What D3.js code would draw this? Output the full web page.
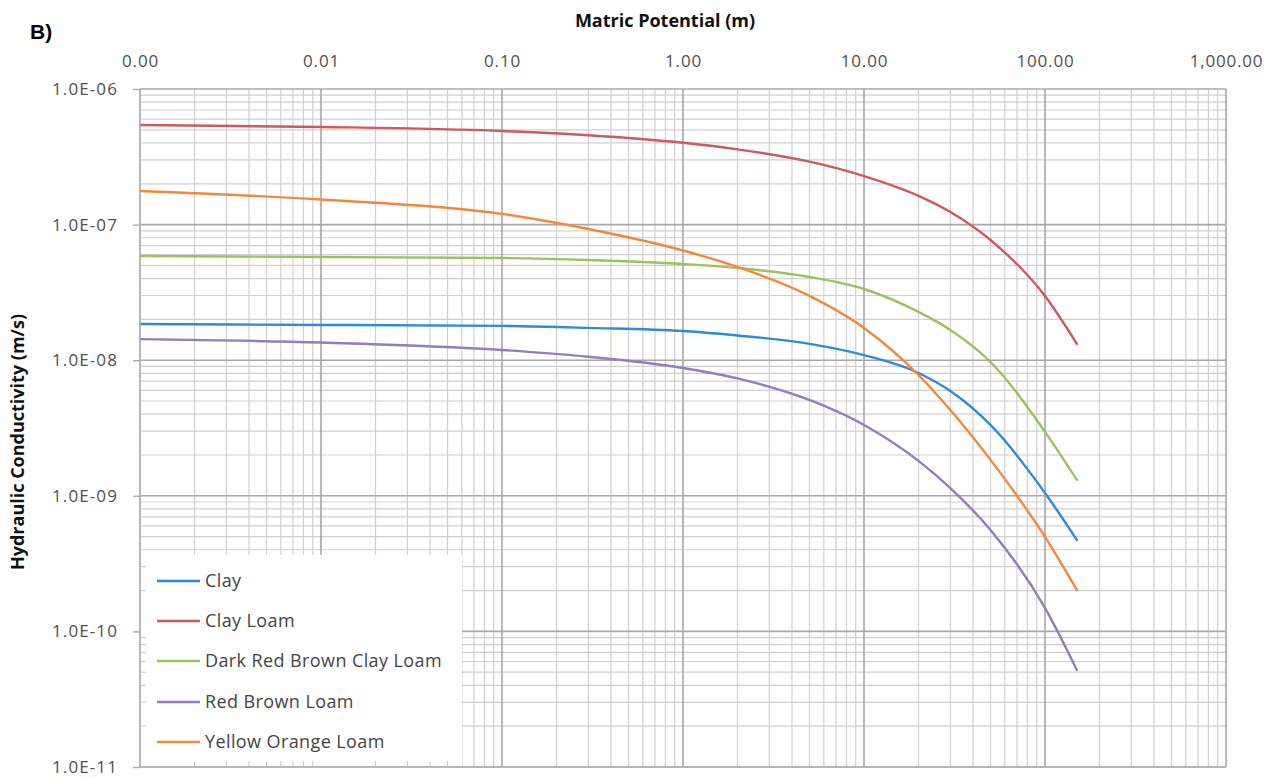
<!DOCTYPE html>
<html>
<head>
<meta charset="utf-8">
<script src="https://cdn.jsdelivr.net/npm/d3@7"></script>
<style>
  html, body { margin: 0; padding: 0; background: #fff; }
  svg { display: block; }
</style>
</head>
<body>
<svg id="chart" width="1278" height="778"></svg>
<script>
// ---- data ----
const matricPotential = [0.001, 0.01, 0.1, 0.3, 1, 2, 5, 10, 20, 30, 50, 100, 150];

const seriesNames = ["Clay", "Clay Loam", "Dark Red Brown Clay Loam", "Red Brown Loam", "Yellow Orange Loam"];
const seriesColors = ["#2e8bdb", "#cc5a5e", "#9cc25e", "#927dbd", "#f5873a"];

const clay                 = [1.85e-8, 1.82e-8, 1.79e-8, 1.73e-8, 1.64e-8, 1.52e-8, 1.32e-8, 1.09e-8, 8.05e-9, 5.93e-9, 3.33e-9, 1.05e-9, 4.72e-10];
const clayLoam             = [5.42e-7, 5.25e-7, 4.90e-7, 4.56e-7, 4.01e-7, 3.59e-7, 2.91e-7, 2.28e-7, 1.63e-7, 1.24e-7, 7.70e-8, 2.97e-8, 1.32e-8];
const darkRedBrownClayLoam = [5.87e-8, 5.77e-8, 5.67e-8, 5.48e-8, 5.12e-8, 4.79e-8, 4.11e-8, 3.35e-8, 2.27e-8, 1.67e-8, 9.70e-9, 2.96e-9, 1.31e-9];
const redBrownLoam         = [1.43e-8, 1.35e-8, 1.19e-8, 1.06e-8, 8.76e-9, 7.34e-9, 5.09e-9, 3.33e-9, 1.81e-9, 1.14e-9, 5.60e-10, 1.49e-10, 5.19e-11];
const yellowOrangeLoam     = [1.77e-7, 1.53e-7, 1.20e-7, 9.28e-8, 6.44e-8, 4.87e-8, 2.98e-8, 1.73e-8, 7.78e-9, 4.29e-9, 1.84e-9, 4.97e-10, 2.02e-10];

const seriesValues = [clay, clayLoam, darkRedBrownClayLoam, redBrownLoam, yellowOrangeLoam];

const xTickValues = [0.001, 0.01, 0.1, 1, 10, 100, 1000];
const yTickValues = [1e-6, 1e-7, 1e-8, 1e-9, 1e-10, 1e-11];

const xTitle = "Matric Potential (m)";
const yTitle = "Hydraulic Conductivity (m/s)";
const panelLabel = "B)";

// ---- layout ----
const plot = { left: 140, right: 1226, top: 89, bottom: 767 };
const svg = d3.select("#chart");

const x = d3.scaleLog().domain([0.001, 1000]).range([plot.left, plot.right]);
const y = d3.scaleLog().domain([1e-11, 1e-6]).range([plot.bottom, plot.top]);

function logMinor(lo, hi) {
  const out = [];
  for (let e = Math.round(Math.log10(lo)); e < Math.round(Math.log10(hi)); e++) {
    for (let k = 2; k <= 9; k++) out.push(k * Math.pow(10, e));
  }
  return out;
}
const xMinor = logMinor(0.001, 1000);
const yMinor = logMinor(1e-11, 1e-6);

const grid = svg.append("g");
grid.selectAll("line.xminor").data(xMinor).join("line")
  .attr("x1", d => x(d)).attr("x2", d => x(d))
  .attr("y1", plot.top).attr("y2", plot.bottom)
  .attr("stroke", "#d0d0d0").attr("stroke-width", 1.2);
grid.selectAll("line.yminor").data(yMinor).join("line")
  .attr("y1", d => y(d)).attr("y2", d => y(d))
  .attr("x1", plot.left).attr("x2", plot.right)
  .attr("stroke", "#d0d0d0").attr("stroke-width", 1.2);
grid.selectAll("line.xmajor").data(xTickValues).join("line")
  .attr("x1", d => x(d)).attr("x2", d => x(d))
  .attr("y1", plot.top).attr("y2", plot.bottom)
  .attr("stroke", "#a8a8a8").attr("stroke-width", 1.6);
grid.selectAll("line.ymajor").data(yTickValues).join("line")
  .attr("y1", d => y(d)).attr("y2", d => y(d))
  .attr("x1", plot.left).attr("x2", plot.right)
  .attr("stroke", "#a8a8a8").attr("stroke-width", 1.6);

// ---- series ----
const line = d3.line()
  .x(d => x(d[0]))
  .y(d => y(d[1]))
  .curve(d3.curveMonotoneX);

const lines = svg.append("g");
seriesNames.forEach((name, i) => {
  const pts = matricPotential.map((p, j) => [p, seriesValues[i][j]]);
  lines.append("path")
    .datum(pts)
    .attr("d", line)
    .attr("fill", "none")
    .attr("stroke", seriesColors[i])
    .attr("stroke-width", 2.4)
    .attr("stroke-linejoin", "round")
    .attr("stroke-linecap", "round");
});

// ---- legend ----
const legend = svg.append("g");
legend.append("rect")
  .attr("x", plot.left + 1).attr("y", 555)
  .attr("width", 321).attr("height", plot.bottom - 555 - 1)
  .attr("fill", "#fff");
legend.selectAll("line.lt").data(yMinor.filter(v => y(v) > 555)).join("line")
  .attr("x1", plot.left).attr("x2", plot.left + 6)
  .attr("y1", d => y(d)).attr("y2", d => y(d))
  .attr("stroke", "#c8c8c8").attr("stroke-width", 1);
legend.selectAll("line.bt").data(xMinor.filter(v => x(v) < 461)).join("line")
  .attr("x1", d => x(d)).attr("x2", d => x(d))
  .attr("y1", plot.bottom - 6).attr("y2", plot.bottom)
  .attr("stroke", "#c8c8c8").attr("stroke-width", 1);

const legendRowY = [581, 621, 661, 702, 742];
seriesNames.forEach((name, i) => {
  legend.append("line")
    .attr("x1", 157).attr("x2", 200)
    .attr("y1", legendRowY[i]).attr("y2", legendRowY[i])
    .attr("stroke", seriesColors[i]).attr("stroke-width", 2.6);
  legend.append("text")
    .attr("x", 205).attr("y", legendRowY[i] + 6)
    .attr("font-family", "'Open Sans', sans-serif")
    .attr("font-size", 18)
    .attr("fill", "#444")
    .attr("letter-spacing", 0.4)
    .text(name);
});

svg.append("line").attr("x1", plot.left).attr("x2", plot.left)
  .attr("y1", plot.top).attr("y2", plot.bottom).attr("stroke", "#b5b5b5").attr("stroke-width", 1.4);
svg.append("line").attr("x1", plot.left).attr("x2", plot.right)
  .attr("y1", plot.bottom).attr("y2", plot.bottom).attr("stroke", "#b5b5b5").attr("stroke-width", 1.4);

// ---- axes ----
const fmtX = d3.format(",.2f");
const fmtY = v => {
  const e = Math.round(Math.log10(v));
  const m = v / Math.pow(10, e);
  const sign = e < 0 ? "-" : "+";
  return m.toFixed(1) + "E" + sign + String(Math.abs(e)).padStart(2, "0");
};

const xAxis = svg.append("g")
  .attr("transform", `translate(0,${plot.top})`)
  .call(d3.axisTop(x).tickValues(xTickValues).tickFormat(fmtX).tickSize(0).tickPadding(22));
xAxis.select(".domain").remove();
xAxis.selectAll("text")
  .attr("font-family", "'Open Sans', sans-serif")
  .attr("font-size", 17)
  .attr("letter-spacing", 0.8)
  .attr("fill", "#505050");

const yAxis = svg.append("g")
  .attr("transform", `translate(${plot.left},0)`)
  .call(d3.axisLeft(y).tickValues(yTickValues).tickFormat(fmtY).tickSize(7).tickPadding(15));
yAxis.select(".domain").remove();
yAxis.selectAll(".tick line").attr("stroke", "#ababab").attr("stroke-width", 1.4);
yAxis.selectAll("text")
  .attr("font-family", "'Open Sans', sans-serif")
  .attr("font-size", 17)
  .attr("letter-spacing", 1.1)
  .attr("fill", "#505050");

// ---- titles ----
svg.append("text")
  .attr("x", 665).attr("y", 27)
  .attr("text-anchor", "middle")
  .attr("font-family", "'Open Sans', sans-serif")
  .attr("font-weight", "bold")
  .attr("font-size", 18)
  .attr("fill", "#111")
  .text(xTitle);

svg.append("text")
  .attr("transform", "translate(24,442) rotate(-90)")
  .attr("text-anchor", "middle")
  .attr("font-family", "'Open Sans', sans-serif")
  .attr("font-weight", "bold")
  .attr("font-size", 18)
  .attr("fill", "#111")
  .text(yTitle);

svg.append("text")
  .attr("x", 30).attr("y", 39)
  .attr("font-family", "'Liberation Sans', Arial, sans-serif")
  .attr("font-weight", "bold")
  .attr("font-size", 21)
  .attr("fill", "#000")
  .text(panelLabel);
</script>
</body>
</html>
